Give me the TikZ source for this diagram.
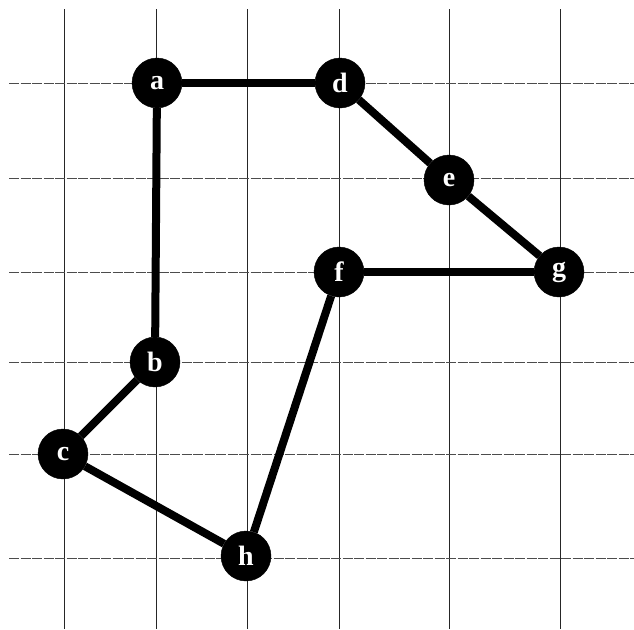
\documentclass[tikz,border=0pt]{standalone}
\usepackage{fontspec}
\setmainfont{Liberation Serif}
\tikzset{
  vtx/.style={circle, fill=black, draw=black, minimum size=50pt, inner sep=0pt,
              text=white, font=\fontsize{28}{30}\selectfont\bfseries},
  edge/.style={line width=8pt, black},
  gridv/.style={line width=0.9pt, black!85},
  gridh/.style={line width=0.8pt, black!70, dash pattern=on 10pt off 1.5pt}
}
\begin{document}
\begin{tikzpicture}[x=1pt,y=-1pt]
\useasboundingbox (0,0) rectangle (634,629);
\fill[white] (0,0) rectangle (634,629);
% grid
\foreach \gx in {64,156,247,339,449,560} \draw[gridv] (\gx,9) -- (\gx,629);
\foreach \gy in {83,178,272,362,454,558} \draw[gridh] (9,\gy) -- (634,\gy);
% nodes
\node[vtx] (a) at (157,83) {a};
\node[vtx] (d) at (340,83) {d};
\node[vtx] (e) at (449,180) {e};
\node[vtx] (g) at (559,272) {g};
\node[vtx] (f) at (339,272) {f};
\node[vtx] (b) at (155,362) {b};
\node[vtx] (c) at (63,454) {c};
\node[vtx] (h) at (246,556) {h};
% edges
\draw[edge] (a) -- (d);
\draw[edge] (d) -- (e);
\draw[edge] (e) -- (g);
\draw[edge] (g) -- (f);
\draw[edge] (f) -- (h);
\draw[edge] (h) -- (c);
\draw[edge] (c) -- (b);
\draw[edge] (b) -- (a);
\end{tikzpicture}
\end{document}
